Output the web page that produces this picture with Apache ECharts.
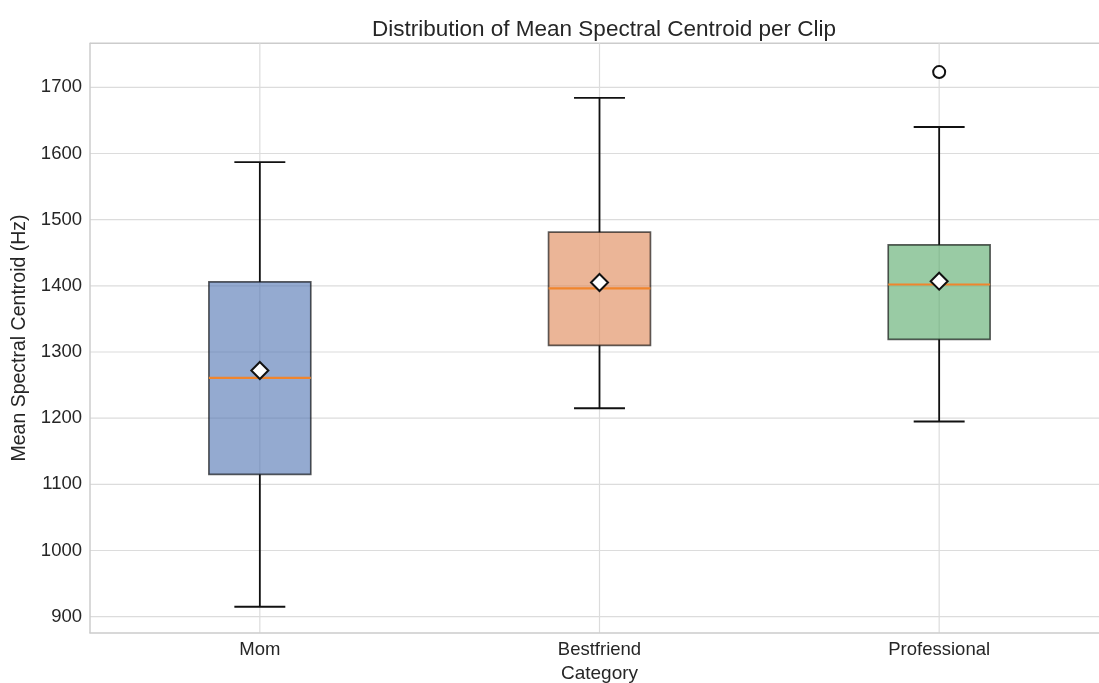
<!DOCTYPE html>
<html>
<head>
<meta charset="utf-8">
<script src="https://cdn.jsdelivr.net/npm/echarts@6/dist/echarts.min.js"></script>
<style>
  html, body { margin: 0; padding: 0; background: #ffffff; overflow: hidden; }
  #chart { width: 1099px; height: 683px; }
</style>
</head>
<body>
<div id="chart"></div>
<script>
// ---- data ----
const categories = ['Mom', 'Bestfriend', 'Professional'];
const whiskerLow = [915, 1215, 1195];
const q1Values = [1115, 1310, 1319];
const medians = [1261, 1396, 1402];
const q3Values = [1406, 1481, 1462];
const whiskerHigh = [1587, 1684, 1640];
const means = [1272, 1405, 1407];
const outliers = [['Professional', 1723]];
const yTicks = [900, 1000, 1100, 1200, 1300, 1400, 1500, 1600, 1700];
const yMin = 875.8;
const yMax = 1766.5;
const boxColors = ['rgba(76,114,176,0.6)', 'rgba(221,132,82,0.6)', 'rgba(85,168,104,0.6)'];

const FONT = '"Liberation Sans", Arial, sans-serif';
const TEXT = '#262626';
const GRID = '#dcdcdc';
const SPINE = '#cccccc';

const boxData = categories.map((c, i) => [i, whiskerLow[i], q1Values[i], medians[i], q3Values[i], whiskerHigh[i]]);

const chart = echarts.init(document.getElementById('chart'), null, { renderer: 'canvas' });

const option = {
  backgroundColor: '#ffffff',
  animation: false,
  title: {
    text: 'Distribution of Mean Spectral Centroid per Clip',
    left: 599,
    textAlign: 'center',
    top: 13,
    textStyle: { fontFamily: FONT, fontSize: 22.5, fontWeight: 'normal', color: TEXT }
  },
  grid: {
    left: 90, top: 43.3, width: 1019, height: 589.4,
    show: false,
    containLabel: false,
    outerBoundsMode: 'none'
  },
  xAxis: {
    type: 'category',
    data: categories,
    boundaryGap: true,
    name: 'Category',
    nameLocation: 'middle',
    nameGap: 31,
    nameTextStyle: { fontFamily: FONT, fontSize: 19, color: TEXT },
    axisLine: { show: true, lineStyle: { color: SPINE, width: 1.5 } },
    axisTick: { show: false },
    splitLine: { show: false },
    axisLabel: { fontFamily: FONT, fontSize: 18.5, color: TEXT, margin: 8 }
  },
  yAxis: {
    type: 'value',
    min: yMin,
    max: yMax,
    name: 'Mean Spectral Centroid (Hz)',
    nameLocation: 'middle',
    nameGap: 57,
    nameTextStyle: { fontFamily: FONT, fontSize: 19.5, color: TEXT },
    axisLine: { show: true, lineStyle: { color: SPINE, width: 1.5 } },
    axisTick: { show: false, customValues: yTicks },
    splitLine: { show: false },
    axisLabel: {
      fontFamily: FONT, fontSize: 18.5, color: TEXT, margin: 8,
      customValues: yTicks,
      formatter: function (v) { return String(Math.round(v)); }
    }
  },
  series: [
    {
      // horizontal grid lines at the y ticks, plus the top spine
      type: 'custom',
      silent: true,
      z: 0,
      data: yTicks.map(v => [0, v]),
      renderItem: function (params, api) {
        const cs = params.coordSys;
        const y = api.coord([0, api.value(1)])[1];
        const children = [{
          type: 'line',
          shape: { x1: cs.x, y1: y, x2: cs.x + cs.width, y2: y },
          style: { stroke: GRID, lineWidth: 1.2 }
        }];
        if (params.dataIndex === 0) {
          children.push({
            type: 'line',
            shape: { x1: cs.x, y1: cs.y, x2: cs.x + cs.width, y2: cs.y },
            style: { stroke: SPINE, lineWidth: 1.5 }
          });
        }
        return { type: 'group', children: children };
      }
    },
    {
      // vertical grid lines at the category ticks
      type: 'custom',
      silent: true,
      z: 0,
      data: categories.map((c, i) => [i, yTicks[0]]),
      renderItem: function (params, api) {
        const cs = params.coordSys;
        const x = api.coord([api.value(0), api.value(1)])[0];
        return {
          type: 'line',
          shape: { x1: x, y1: cs.y, x2: x, y2: cs.y + cs.height },
          style: { stroke: GRID, lineWidth: 1.2 }
        };
      }
    },
    {
      type: 'custom',
      z: 2,
      data: boxData,
      renderItem: function (params, api) {
        const idx = api.value(0);
        const band = api.size([1, 0])[0];
        const half = band * 0.3 / 2;
        const capHalf = band * 0.15 / 2;
        const cx = api.coord([idx, 0])[0];
        const yLow = api.coord([idx, api.value(1)])[1];
        const yQ1 = api.coord([idx, api.value(2)])[1];
        const yMed = api.coord([idx, api.value(3)])[1];
        const yQ3 = api.coord([idx, api.value(4)])[1];
        const yHigh = api.coord([idx, api.value(5)])[1];
        const wStyle = { stroke: '#111111', lineWidth: 1.8 };
        return {
          type: 'group',
          children: [
            { type: 'line', shape: { x1: cx, y1: yQ1, x2: cx, y2: yLow }, style: wStyle },
            { type: 'line', shape: { x1: cx, y1: yQ3, x2: cx, y2: yHigh }, style: wStyle },
            { type: 'line', shape: { x1: cx - capHalf, y1: yLow, x2: cx + capHalf, y2: yLow }, style: wStyle },
            { type: 'line', shape: { x1: cx - capHalf, y1: yHigh, x2: cx + capHalf, y2: yHigh }, style: wStyle },
            {
              type: 'rect',
              shape: { x: cx - half, y: yQ3, width: half * 2, height: yQ1 - yQ3 },
              style: { fill: boxColors[idx], stroke: 'rgba(0,0,0,0.62)', lineWidth: 1.7 }
            },
            {
              type: 'line',
              shape: { x1: cx - half, y1: yMed, x2: cx + half, y2: yMed },
              style: { stroke: '#f0852d', lineWidth: 2.2 }
            }
          ]
        };
      }
    },
    {
      type: 'scatter',
      name: 'Mean',
      z: 5,
      symbol: 'diamond',
      symbolSize: 17,
      data: categories.map((c, i) => [c, means[i]]),
      itemStyle: { color: '#ffffff', borderColor: '#111111', borderWidth: 2, opacity: 1 }
    },
    {
      type: 'scatter',
      name: 'Outliers',
      z: 5,
      symbol: 'circle',
      symbolSize: 12,
      data: outliers,
      itemStyle: { color: '#ffffff', borderColor: '#111111', borderWidth: 2, opacity: 1 }
    }
  ]
};

chart.setOption(option);
</script>
</body>
</html>
